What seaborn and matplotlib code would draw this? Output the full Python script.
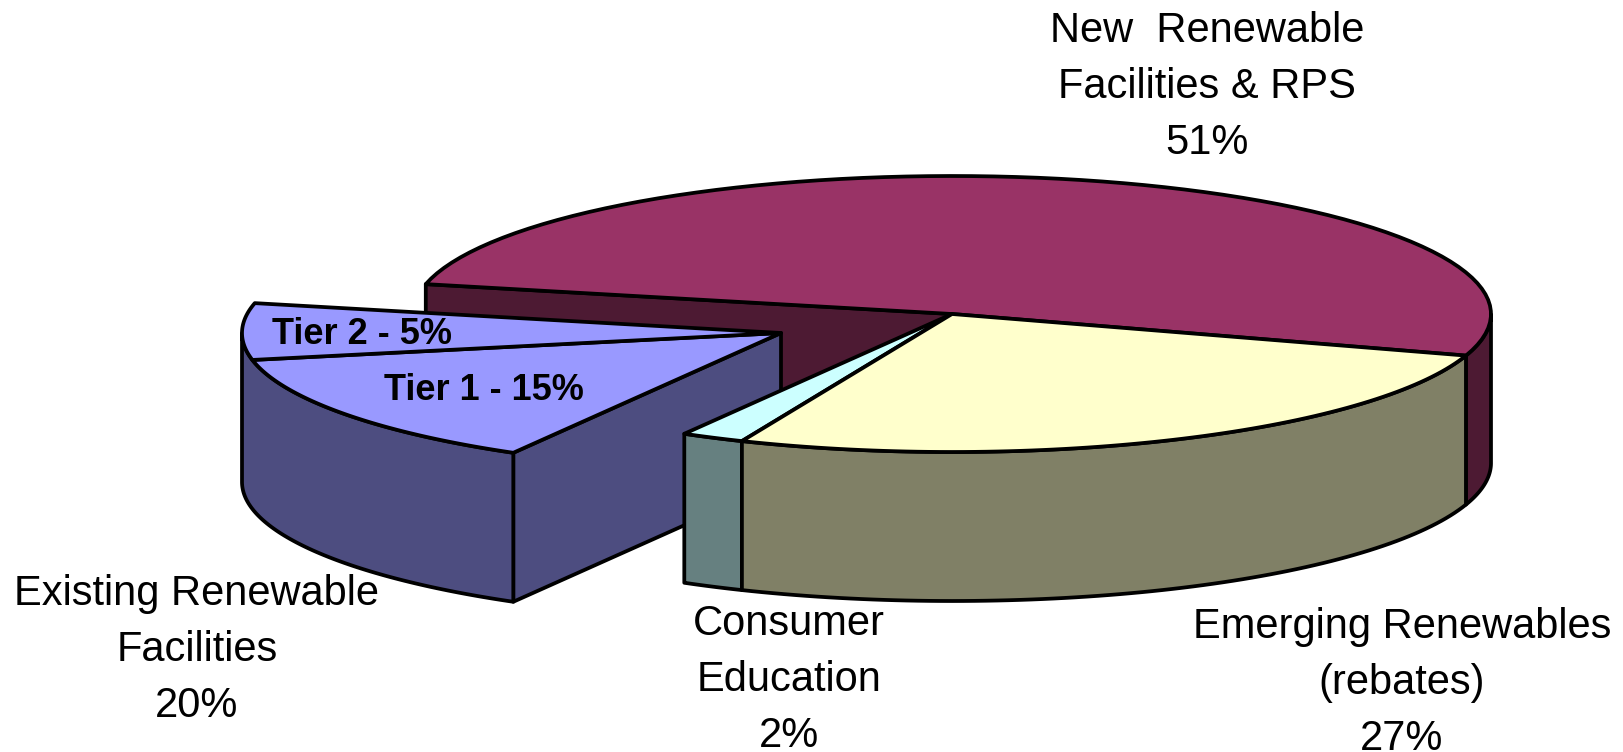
import numpy as np
import matplotlib
matplotlib.use("Agg")
import matplotlib.pyplot as plt
import seaborn as sns

# === Data ===
# shares are measured from the drawn slices, the printed percentages are below
categories = ['New Renewable', 'Emerging Renewables', 'Consumer Education', 'Tier 1', 'Tier 2']
shares = [51.4, 26.5, 1.9, 13.6, 6.6]
start_angle = 167.5

label_texts = ['New  Renewable\nFacilities & RPS\n51%',
               'Emerging Renewables\n(rebates)\n27%',
               'Consumer\nEducation\n2%',
               'Existing Renewable\nFacilities\n20%']
tier_texts = ['Tier 2 - 5%', 'Tier 1 - 15%']

top_colors = sns.color_palette(['#993366', '#FFFFCC', '#CCFFFF', '#9999FF', '#9999FF'])
wall_colors = sns.color_palette(['#4D1A33', '#808066', '#668080', '#4D4D80', '#4D4D80'])

# === Style ===
sns.set_theme(style='white')
plt.rcParams['font.family'] = ['Liberation Sans', 'DejaVu Sans']

RX, RY, DEPTH = 539, 138, 149
MAIN = (952, 314)
EXPLODED = (781, 333)
LW = 2.7


def arc(center, t0, t1):
    t = np.radians(np.linspace(t0, t1, 80))
    return center[0] + RX * np.cos(t), center[1] - RY * np.sin(t)


def draw_top(ax, center, t0, t1, color, zorder):
    x, y = arc(center, t0, t1)
    ax.fill(np.r_[center[0], x], np.r_[center[1], y], facecolor=color, edgecolor='black',
            lw=LW, joinstyle='round', zorder=zorder)


def draw_wall(ax, center, t0, t1, color, zorder):
    # only the front half of the rim can be seen
    t0, t1 = min(t0, 0), max(t1, -180)
    if t0 <= t1:
        return
    x, y = arc(center, t0, t1)
    ax.fill(np.r_[x, x[::-1]], np.r_[y, y[::-1] + DEPTH], facecolor=color, edgecolor='black',
            lw=LW, joinstyle='round', zorder=zorder)


def draw_cut(ax, center, t, color, zorder):
    x, y = arc(center, t, t)
    ax.fill([center[0], x[0], x[0], center[0]],
            [center[1], y[0], y[0] + DEPTH, center[1] + DEPTH],
            facecolor=color, edgecolor='black', lw=LW, joinstyle='round', zorder=zorder)


# === Angles of the slices (clockwise) ===
ends = start_angle - 3.6 * np.cumsum(shares)
starts = np.r_[start_angle, ends[:-1]]

fig = plt.figure(figsize=(16.24, 7.52), dpi=100)
ax = fig.add_axes([0, 0, 1, 1])
ax.set_xlim(0, 1624)
ax.set_ylim(752, 0)
ax.axis('off')

# main part of the pie
draw_cut(ax, MAIN, starts[0], wall_colors[0], 1)
draw_wall(ax, MAIN, starts[0], ends[0], wall_colors[0], 1)
draw_top(ax, MAIN, starts[0], ends[0], top_colors[0], 2)

# pulled out slice
draw_cut(ax, EXPLODED, starts[3], wall_colors[3], 3)
draw_wall(ax, EXPLODED, starts[3], ends[4], wall_colors[3], 3)
draw_top(ax, EXPLODED, starts[3], ends[3], top_colors[3], 4)
draw_top(ax, EXPLODED, starts[4], ends[4], top_colors[4], 4)

# front slices
for i in [2, 1]:
    draw_wall(ax, MAIN, starts[i], ends[i], wall_colors[i], 5)
    draw_top(ax, MAIN, starts[i], ends[i], top_colors[i], 6)

# === Labels ===
label_xy = [(1207, 87), (1402, 683), (789, 680), (197, 650)]
for txt, (x, y) in zip(label_texts, label_xy):
    ax.text(x, y, txt, ha='center', va='center', fontsize=30, linespacing=1.53, color='black', zorder=8)

tier_xy = [(362, 335), (484, 391)]
for txt, (x, y) in zip(tier_texts, tier_xy):
    ax.text(x, y, txt, ha='center', va='center', fontsize=26, fontweight='bold', color='black', zorder=8)

fig.savefig('out.png', dpi=100, facecolor='white')
